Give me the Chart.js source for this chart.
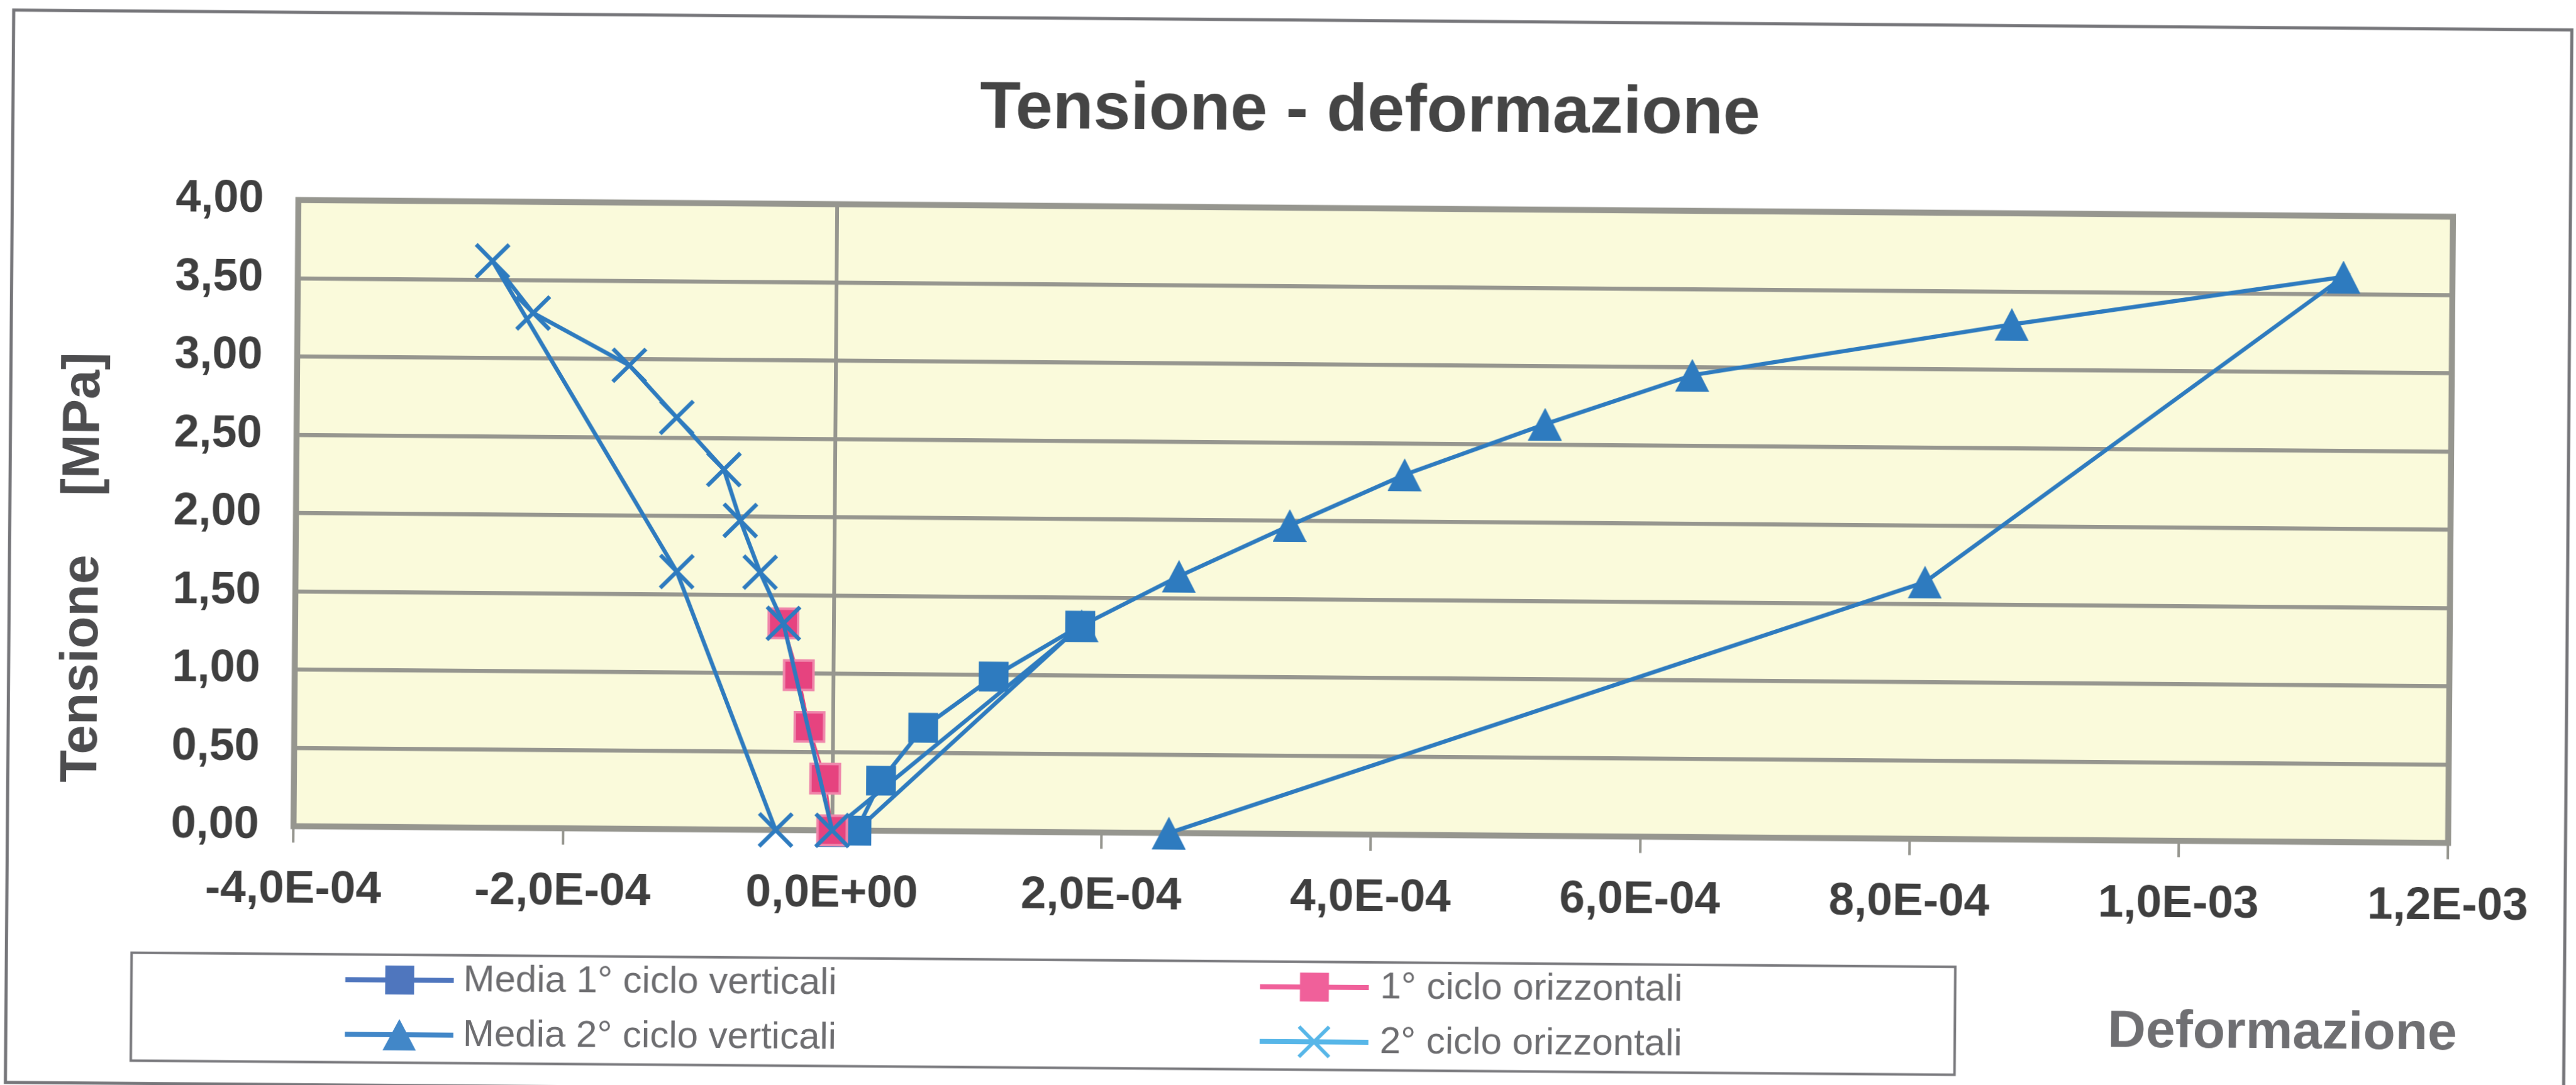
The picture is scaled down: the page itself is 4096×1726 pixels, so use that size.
<!DOCTYPE html>
<html>
<head>
<meta charset="utf-8">
<title>Tensione - deformazione</title>
<script src="https://cdn.jsdelivr.net/npm/chart.js"></script>
<style>
  html, body { margin: 0; padding: 0; background: #fff; overflow: hidden; }
  body { width: 4096px; height: 1726px; position: relative; }
  /* the scanned original is tilted a little clockwise, so the canvas is too */
  #chart { position: absolute; left: -40px; top: -40px; transform: rotate(0.445deg); transform-origin: 50% 50%; }
</style>
</head>
<body>
<canvas id="chart" width="4176" height="1806"></canvas>
<script>
// values: strain (x) and stress in MPa (y)
const titleText = 'Tensione - deformazione';
const yTitleText = 'Tensione    [MPa]';
const xTitleText = 'Deformazione';

const seriesNames = ['Media 1° ciclo verticali', '1° ciclo orizzontali', 'Media 2° ciclo verticali', '2° ciclo orizzontali'];

const media1X = [0.18e-4, 0.36e-4, 0.67e-4, 1.19e-4, 1.83e-4, 0.18e-4];
const media1Y = [0.00, 0.32, 0.66, 0.99, 1.32, 0.00];

const oriz1X = [0, -0.055e-4, -0.175e-4, -0.257e-4, -0.374e-4];
const oriz1Y = [0.00, 0.33, 0.66, 0.99, 1.32];

const media2X = [0, 1.84e-4, 2.56e-4, 3.38e-4, 4.23e-4, 5.27e-4, 6.36e-4, 8.73e-4, 11.19e-4, 8.10e-4, 2.50e-4];
const media2Y = [0.00, 1.32, 1.64, 1.97, 2.30, 2.63, 2.95, 3.29, 3.61, 1.64, 0.00];

const oriz2X = [0, -0.374e-4, -0.55e-4, -0.70e-4, -0.825e-4, -1.178e-4, -1.533e-4, -2.25e-4, -2.555e-4, -1.169e-4, -0.42e-4];
const oriz2Y = [0.00, 1.32, 1.645, 1.975, 2.30, 2.63, 2.96, 3.29, 3.62, 1.645, 0.00];

const xTickValues = [-4e-4, -2e-4, 0, 2e-4, 4e-4, 6e-4, 8e-4, 10e-4, 12e-4];
const xTickLabels = ['-4,0E-04', '-2,0E-04', '0,0E+00', '2,0E-04', '4,0E-04', '6,0E-04', '8,0E-04', '1,0E-03', '1,2E-03'];
const yTickValues = [0, 0.5, 1, 1.5, 2, 2.5, 3, 3.5, 4];
const yTickLabels = ['0,00', '0,50', '1,00', '1,50', '2,00', '2,50', '3,00', '3,50', '4,00'];

const FONT = '"Liberation Sans", Arial, sans-serif';
const GRID = '#96968f';
const PLOT_BLUE = '#2e7bbf';
const PINK = '#e6437f';
const legendColors = ['#4f76be', '#f0609a', '#4287c8', '#57b6e8'];

Chart.defaults.font.family = FONT;

function toPoints(xs, ys) {
  return xs.map((x, i) => ({ x: x, y: ys[i] }));
}

function triangleImage(w, h, color) {
  const c = document.createElement('canvas');
  c.width = w;
  c.height = h;
  const g = c.getContext('2d');
  g.fillStyle = color;
  g.beginPath();
  g.moveTo(w / 2, 0);
  g.lineTo(w, h);
  g.lineTo(0, h);
  g.closePath();
  g.fill();
  return c;
}

function drawMarker(ctx, kind, x, y, color) {
  ctx.fillStyle = color;
  ctx.strokeStyle = color;
  if (kind === 'rect') {
    ctx.fillRect(x - 23, y - 23, 46, 46);
  } else if (kind === 'triangle') {
    ctx.beginPath();
    ctx.moveTo(x, y - 25);
    ctx.lineTo(x + 26.5, y + 25);
    ctx.lineTo(x - 26.5, y + 25);
    ctx.closePath();
    ctx.fill();
  } else {
    ctx.lineWidth = 6;
    ctx.beginPath();
    ctx.moveTo(x - 24, y - 24); ctx.lineTo(x + 24, y + 24);
    ctx.moveTo(x - 24, y + 24); ctx.lineTo(x + 24, y - 24);
    ctx.stroke();
  }
}

// plot area fill, frame, titles and the boxed legend
const decorations = {
  id: 'decorations',
  beforeDraw(chart) {
    const { ctx, chartArea: a } = chart;
    ctx.save();
    ctx.fillStyle = '#ffffff';
    ctx.fillRect(0, 0, chart.width, chart.height);
    ctx.fillStyle = '#fafadb';
    ctx.fillRect(a.left, a.top, a.right - a.left, a.bottom - a.top);
    ctx.restore();
  },
  beforeDatasetsDraw(chart) {
    const { ctx, chartArea: a } = chart;
    ctx.save();
    ctx.strokeStyle = GRID;
    ctx.lineWidth = 9.5;
    ctx.strokeRect(a.left, a.top, a.right - a.left, a.bottom - a.top);
    ctx.restore();
  },
  afterDraw(chart) {
    const ctx = chart.ctx;
    ctx.save();

    // outer border of the chart object
    ctx.strokeStyle = '#76767a';
    ctx.lineWidth = 5;
    ctx.strokeRect(55.3, 71.8, 4123 - 55.3, 1777.7 - 71.8);

    ctx.textAlign = 'center';
    ctx.textBaseline = 'alphabetic';
    ctx.fillStyle = '#454545';
    ctx.font = 'bold 106px ' + FONT;
    ctx.fillText(titleText, 2213, 247);

    ctx.save();
    ctx.translate(195.6, 957.6);
    ctx.rotate(-Math.PI / 2);
    ctx.fillStyle = '#4d4d4f';
    ctx.font = 'bold 84px ' + FONT;
    ctx.fillText(yTitleText, 0, 0);
    ctx.restore();

    ctx.fillStyle = '#6f6f72';
    ctx.font = 'bold 84px ' + FONT;
    ctx.fillText(xTitleText, 3675, 1695);

    // legend box
    ctx.strokeStyle = '#7a7a7e';
    ctx.lineWidth = 4;
    ctx.strokeRect(254.4, 1569.8, 3154.3 - 254.4, 1741.5 - 1569.8);

    const kinds = ['rect', 'rect', 'triangle', 'cross'];
    const cols = [{ x1: 594.5, x2: 767, mx: 681, tx: 782 }, { x1: 2049, x2: 2222, mx: 2135.5, tx: 2240 }];
    const rows = [1610, 1697];
    // Excel fills the two column legend row by row
    const slots = [[0, 0], [1, 0], [0, 1], [1, 1]];
    [0, 1, 2, 3].forEach((s, i) => {
      const col = cols[slots[i][0]];
      const y = rows[slots[i][1]];
      ctx.strokeStyle = legendColors[s];
      ctx.lineWidth = 8;
      ctx.beginPath();
      ctx.moveTo(col.x1, y);
      ctx.lineTo(col.x2, y);
      ctx.stroke();
      drawMarker(ctx, kinds[s], col.mx, y, legendColors[s]);
      ctx.fillStyle = '#6d6d70';
      ctx.font = '60px ' + FONT;
      ctx.textAlign = 'left';
      ctx.textBaseline = 'middle';
      ctx.fillText(seriesNames[s], col.tx, y);
    });

    ctx.restore();
  }
};

const ctx = document.getElementById('chart').getContext('2d');
new Chart(ctx, {
  type: 'scatter',
  data: {
    datasets: [
      {
        label: seriesNames[3],
        data: toPoints(oriz2X, oriz2Y),
        showLine: true,
        borderColor: PLOT_BLUE,
        borderWidth: 6.5,
        pointStyle: 'crossRot',
        pointRadius: 37,
        pointBorderColor: PLOT_BLUE,
        pointBorderWidth: 6.5,
        order: 0,
        clip: false
      },
      {
        label: seriesNames[1],
        data: toPoints(oriz1X, oriz1Y),
        showLine: true,
        borderColor: PINK,
        borderWidth: 3,
        pointStyle: 'rect',
        pointRadius: 33,
        pointBackgroundColor: PINK,
        pointBorderColor: '#ef86ab',
        pointBorderWidth: 4,
        order: 1,
        clip: false
      },
      {
        label: seriesNames[0],
        data: toPoints(media1X, media1Y),
        showLine: true,
        borderColor: PLOT_BLUE,
        borderWidth: 6.5,
        pointStyle: 'rect',
        pointRadius: 33.5,
        pointBackgroundColor: PLOT_BLUE,
        pointBorderWidth: 0,
        order: 2,
        clip: false
      },
      {
        label: seriesNames[2],
        data: toPoints(media2X, media2Y),
        showLine: true,
        borderColor: PLOT_BLUE,
        borderWidth: 6.5,
        pointStyle: triangleImage(54, 52, PLOT_BLUE),
        pointRadius: 27,
        pointBorderWidth: 0,
        order: 3,
        clip: false
      }
    ]
  },
  options: {
    responsive: false,
    animation: false,
    devicePixelRatio: 1,
    events: [],
    layout: { padding: { left: 40, top: 370.4, right: 239.7, bottom: 0 } },
    plugins: {
      legend: { display: false },
      tooltip: { enabled: false },
      title: { display: false }
    },
    scales: {
      x: {
        type: 'linear',
        min: -4e-4,
        max: 12e-4,
        afterFit(scale) { scale.height = 439.4; },
        afterBuildTicks(scale) { scale.ticks = xTickValues.map(v => ({ value: v })); },
        ticks: {
          padding: 31,
          color: '#3f3f3f',
          font: { size: 73, weight: 'bold' },
          maxRotation: 0,
          autoSkip: false,
          callback: (v, i) => xTickLabels[i]
        },
        grid: {
          color: c => (c.tick && Math.abs(c.tick.value) < 1e-12 ? GRID : 'rgba(0,0,0,0)'),
          lineWidth: 6,
          tickColor: GRID,
          tickWidth: 4,
          tickLength: 26
        },
        border: { display: false }
      },
      y: {
        type: 'linear',
        min: 0,
        max: 4,
        afterFit(scale) { scale.width = 470.3; },
        afterBuildTicks(scale) { scale.ticks = yTickValues.map(v => ({ value: v })); },
        ticks: {
          padding: 55,
          color: '#3f3f3f',
          font: { size: 72, weight: 'bold' },
          autoSkip: false,
          callback: (v, i) => yTickLabels[i]
        },
        grid: { color: GRID, lineWidth: 6.4, drawTicks: false },
        border: { display: false }
      }
    }
  },
  plugins: [decorations]
});
</script>
</body>
</html>
